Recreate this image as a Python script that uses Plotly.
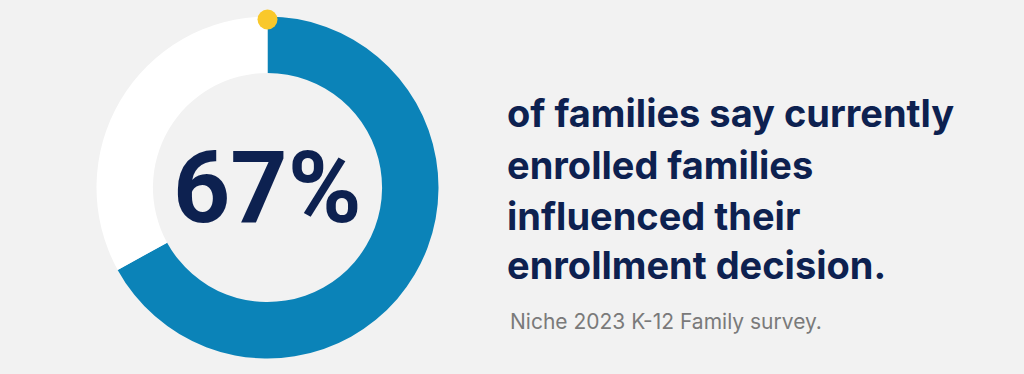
import plotly.graph_objects as go

# Data
labels = ["Influenced", "Other"]
values = [67, 33]
slice_colors = ["#0b83b8", "#ffffff"]
big_number = "67%"
statement_lines = [
    "of families say currently",
    "enrolled families",
    "influenced their",
    "enrollment decision.",
]
source_text = "Niche 2023 K-12 Family survey."

W, H = 1024, 374
BG = "#f2f2f2"
NAVY = "#0d2150"

cx, cy, r = 267.5, 187.5, 171.0  # pixel geometry of the donut

fig = go.Figure()
fig.add_trace(go.Pie(
    labels=labels, values=values, hole=0.67, sort=False,
    direction="clockwise", rotation=0,
    marker=dict(colors=slice_colors, line=dict(width=0)),
    textinfo="none", hoverinfo="label+percent", showlegend=False,
    domain=dict(x=[(cx - r) / W, (cx + r) / W], y=[(H - cy - r) / H, (H - cy + r) / H]),
))

# yellow start marker at 12 o'clock of the ring
dot_r = 10
top_y = cy - r + 3
fig.add_shape(type="circle", xref="paper", yref="paper",
              x0=(cx - dot_r) / W, x1=(cx + dot_r) / W,
              y0=(H - top_y - dot_r) / H, y1=(H - top_y + dot_r) / H,
              fillcolor="#f9c82b", line=dict(width=0), layer="above")

fig.add_annotation(x=cx / W, y=(H - cy) / H, xref="paper", yref="paper",
                   text=f"<b>{big_number}</b>", showarrow=False,
                   font=dict(family="Roboto", size=100, color=NAVY),
                   xanchor="center", yanchor="middle")

line_y = [113, 165, 216, 265]
for txt, y in zip(statement_lines, line_y):
    fig.add_annotation(x=505 / W, y=(H - y) / H, xref="paper", yref="paper",
                       text=f"<b>{txt}</b>", showarrow=False, align="left",
                       font=dict(family="Inter", size=38, color=NAVY),
                       xanchor="left", yanchor="middle")

fig.add_annotation(x=508 / W, y=(H - 321) / H, xref="paper", yref="paper",
                   text=source_text, showarrow=False, align="left",
                   font=dict(family="Inter", size=21, color="#7a7a7a"),
                   xanchor="left", yanchor="middle")

fig.update_layout(width=W, height=H, margin=dict(l=0, r=0, t=0, b=0),
                  paper_bgcolor=BG, plot_bgcolor=BG)

fig.write_html("out.html")
